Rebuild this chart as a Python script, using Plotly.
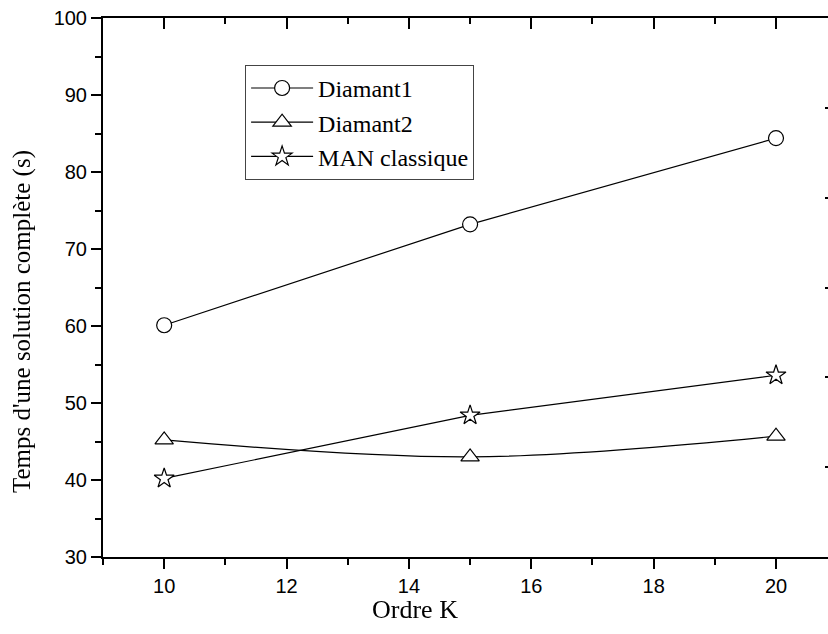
import plotly.graph_objects as go

orders = [10, 15, 20]
diamant1 = [60.1, 73.2, 84.4]
diamant2 = [45.2, 43.0, 45.7]
man_classique = [40.2, 48.4, 53.6]

x_title = "Ordre K"
y_title = "Temps d'une solution complète (s)"

fig = go.Figure()

common_marker = dict(color="white", size=15, line=dict(color="black", width=1.2))

fig.add_trace(go.Scatter(x=orders, y=diamant1, name="Diamant1", mode="lines+markers",
                         line=dict(color="black", width=1.2),
                         marker=dict(symbol="circle", **common_marker)))
fig.add_trace(go.Scatter(x=orders, y=diamant2, name="Diamant2", mode="lines+markers",
                         line=dict(color="black", width=1.2, shape="spline", smoothing=1.0),
                         marker=dict(symbol="triangle-up", **{**common_marker, "size": 16})))
fig.add_trace(go.Scatter(x=orders, y=man_classique, name="MAN classique", mode="lines+markers",
                         line=dict(color="black", width=1.2),
                         marker=dict(symbol="star", **common_marker)))
# invisible helper traces so the frame axes (top / right) get drawn
for xa, ya in (("x2", "y"), ("x3", "y"), ("x", "y2")):
    fig.add_trace(go.Scatter(x=orders, y=diamant1, xaxis=xa, yaxis=ya, showlegend=False,
                             hoverinfo="skip", mode="markers", opacity=0))

tickfont = dict(family="Liberation Sans, Arial", size=20, color="black")
serif = "Liberation Serif, Times New Roman"

xr = [9, 20.85]
top_common = dict(range=xr, overlaying="x", side="top", anchor="y", showgrid=False,
                  zeroline=False, showline=True, linecolor="black", linewidth=2,
                  ticks="inside", tickwidth=1.5, tickcolor="black", showticklabels=False)
fig.update_layout(
    width=828, height=634,
    margin=dict(l=103, r=0, t=18, b=77),
    paper_bgcolor="white", plot_bgcolor="rgba(0,0,0,0)",
    showlegend=True,
    legend=dict(x=0.196, y=0.913, xanchor="left", yanchor="top",
                bgcolor="white", bordercolor="#444", borderwidth=1,
                font=dict(family=serif, size=24, color="black"),
                tracegroupgap=0, itemwidth=62),
    xaxis=dict(range=xr, showgrid=False, zeroline=False, showline=True, linecolor="black",
               linewidth=2, ticks="outside", ticklen=10, tickwidth=1.5, tickcolor="black",
               tickvals=[10, 12, 14, 16, 18, 20], tickfont=tickfont,
               minor=dict(ticks="outside", dtick=1, ticklen=6, tickwidth=1.5, tickcolor="black")),
    xaxis2=dict(**top_common, ticklen=11, tick0=10, dtick=2),
    xaxis3=dict(**top_common, ticklen=6, tick0=9, dtick=1),
    yaxis=dict(range=[30, 100], showgrid=False, zeroline=False, showline=True, linecolor="black",
               linewidth=2, ticks="outside", ticklen=10, tickwidth=1.5, tickcolor="black",
               dtick=10, tickfont=tickfont,
               minor=dict(ticks="outside", dtick=5, ticklen=6, tickwidth=1.5, tickcolor="black")),
    yaxis2=dict(range=[0, 6], overlaying="y", side="right", anchor="x", showgrid=False,
                zeroline=False, showline=False, ticks="inside", ticklen=3, tickwidth=2,
                tickcolor="black", dtick=1, showticklabels=False),
    annotations=[
        dict(text=x_title, xref="paper", yref="paper", x=0.430, y=-0.0965,
             xanchor="center", yanchor="middle", showarrow=False,
             font=dict(family=serif, size=26, color="black")),
        dict(text=y_title, xref="paper", yref="paper", x=-0.1117, y=0.436,
             xanchor="center", yanchor="middle", showarrow=False, textangle=-90,
             font=dict(family=serif, size=25, color="black")),
    ],
)

fig.write_html("out.html", config={"displayModeBar": False},
               post_script="document.body.style.margin='0';")
